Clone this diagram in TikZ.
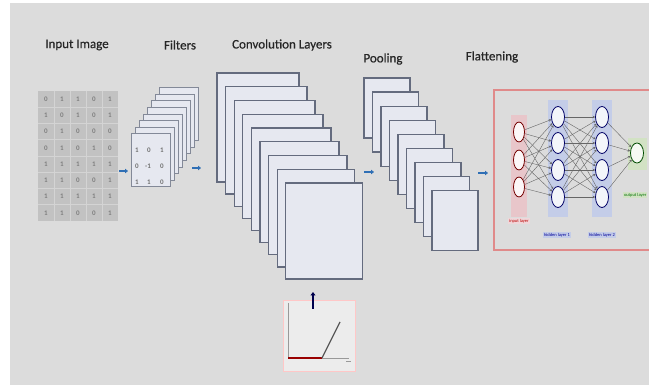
\documentclass[tikz,border=0pt]{standalone}
\usepackage{fontspec}
\setmainfont{Carlito}
\usetikzlibrary{arrows.meta,shapes.geometric}
\definecolor{bg}{HTML}{DCDCDC}
\definecolor{cardfill}{HTML}{E6E8F0}
\definecolor{carddraw}{HTML}{646B7E}
\definecolor{arrowblue}{HTML}{2F6FB5}
\definecolor{titlecol}{HTML}{262626}
\definecolor{matfill}{HTML}{C2C2C2}
\definecolor{matline}{HTML}{D4D4D4}
\definecolor{boxred}{HTML}{E08A8A}
\definecolor{inred}{HTML}{E8C6CA}
\definecolor{hidblue}{HTML}{C4CDE8}
\definecolor{outgreen}{HTML}{D2E2C4}
\tikzset{
  titletext/.style={font=\fontsize{13}{14}\selectfont\addfontfeature{FakeBold=0.6}, text=titlecol, inner sep=0pt},
  cardbox/.style={fill=cardfill, draw=carddraw, line width=1.3pt},
  filtercard/.style={fill=cardfill, draw=carddraw!80, line width=1pt},
  stagearrow/.style={draw=arrowblue, line width=2.6pt, -{Triangle[length=3pt,width=4.5pt]}},
  matdigit/.style={font=\fontsize{7}{7}\selectfont\bfseries, text=black!50, inner sep=0pt},
  fdigit/.style={font=\fontsize{7}{7}\selectfont\bfseries, text=black!55, inner sep=0pt},
  inneuron/.style={ellipse, minimum width=11pt, minimum height=20pt, inner sep=0pt, fill=white!85!inred, draw=red!45!black, line width=0.8pt},
  hidneuron/.style={ellipse, minimum width=13pt, minimum height=21pt, inner sep=0pt, fill=white!80!hidblue, draw=blue!40!black, line width=0.8pt},
  outneuron/.style={ellipse, minimum width=13pt, minimum height=20pt, inner sep=0pt, fill=white!80!outgreen, draw=green!30!black, line width=0.8pt},
  nnedge/.style={draw=black!60, line width=0.4pt, -{Stealth[length=2.5pt,width=2.5pt]}},
  tinylabel/.style={font=\fontsize{4.5}{5}\selectfont, inner sep=0.8pt},
}
\begin{document}
\begin{tikzpicture}[x=1pt,y=-1pt]
\useasboundingbox (0,0) rectangle (649,385);
\fill[white] (0,0) rectangle (649,385);
\fill[bg] (10,3) rectangle (649,385);
\begin{scope}
\clip (10,3) rectangle (649,385);

% Titles
\node[titletext] (tInput) at (77,45) {Input Image};
\node[titletext] (tFilters) at (180,45) {Filters};
\node[titletext] (tConv) at (282,45) {Convolution Layers};
\node[titletext] (tPool) at (383,59) {Pooling};
\node[titletext] (tFlat) at (492,57) {Flattening};

% Input matrix
\fill[matfill] (38,91) rectangle (118,221);
\foreach \k in {1,...,4} \draw[matline, line width=0.6pt] (38+16*\k,91) -- (38+16*\k,221);
\foreach \k in {1,...,7} \draw[matline, line width=0.6pt] (38,91+16.25*\k) -- (118,91+16.25*\k);
\foreach \row [count=\r from 0] in {{0,1,1,0,1},{1,0,1,0,1},{0,1,0,0,0},{0,1,0,1,0},{1,1,1,1,1},{1,1,0,0,1},{1,1,1,1,1},{1,1,0,0,1}}{
  \foreach \v [count=\c from 0] in \row {
    \node[matdigit] (m\r\c) at (46+16*\c, 99.1+16.25*\r) {\v};
  }
}

% Filters stack
\foreach \i in {7,6,...,0}{
  \draw[filtercard] (131+4*\i,134-6.6*\i) rectangle ++(39,53);
}
\node[fdigit] (f00) at (137,150) {1};
\node[fdigit] (f01) at (149,150) {0};
\node[fdigit] (f02) at (162,150) {1};
\node[fdigit] (f10) at (137,166) {0};
\node[fdigit] (f11) at (148,166) {-1};
\node[fdigit] (f12) at (162,166) {0};
\node[fdigit] (f20) at (137,182) {1};
\node[fdigit] (f21) at (149,182) {1};
\node[fdigit] (f22) at (162,182) {0};

% Convolution layers
\foreach \i in {0,...,8}{
  \draw[cardbox] (217+8.6*\i,73+13.75*\i) rectangle ++(82-0.625*\i,109-1.625*\i);
}

% Pooling layers
\foreach \i in {0,...,8}{
  \draw[cardbox] (364+8.5*\i,78+14.1*\i) rectangle ++(46,60);
}

% Stage arrows
\coordinate (a1s) at (119,171); \coordinate (a1e) at (128,171);
\coordinate (a2s) at (192,168); \coordinate (a2e) at (201,168);
\coordinate (a3s) at (364,172); \coordinate (a3e) at (374,172);
\coordinate (a4s) at (478,173); \coordinate (a4e) at (488,173);
\draw[stagearrow] (a1s) -- (a1e);
\draw[stagearrow] (a2s) -- (a2e);
\draw[stagearrow] (a3s) -- (a3e);
\draw[stagearrow] (a4s) -- (a4e);

% ReLU chart
\draw[fill=bg!55!white, draw=red!22!white, line width=0.6pt] (283,300) rectangle (355,371);
\coordinate (ax0) at (288,358);
\coordinate (axy) at (288,303);
\coordinate (axx) at (349,358);
\coordinate (rk) at (322,358);
\coordinate (rt) at (340,322);
\draw[black!40, line width=0.7pt] (axy) -- (ax0) -- (axx);
\draw[black!40, line width=0.6pt] (346,361) -- (351,361);
\draw[red!60!black, line width=1.3pt] (ax0) -- (rk);
\draw[black!65, line width=1.2pt] (rk) -- (rt);
\coordinate (upS) at (313,309);
\coordinate (upE) at (313,292);
\draw[draw=blue!30!black, line width=2.6pt, -{Triangle[length=3.5pt,width=5pt]}] (upS) -- (upE);

% Fully connected network box
\draw[boxred, line width=1.4pt] (494,90) rectangle (660,250);
\fill[inred] (511,115) rectangle (527,217);
\fill[hidblue] (548,100) rectangle (568,217);
\fill[hidblue] (592,100) rectangle (612,217);
\fill[outgreen] (628,138) rectangle (647,170);

\node[inneuron] (i1) at (519,132) {};
\node[inneuron] (i2) at (519,160) {};
\node[inneuron] (i3) at (519,187) {};
\foreach \y [count=\k] in {117,143,170,197}{
  \node[hidneuron] (h\k) at (558,\y) {};
  \node[hidneuron] (g\k) at (602,\y) {};
}
\node[outneuron] (o1) at (637,153) {};

\foreach \a in {1,2,3}{\foreach \b in {1,...,4}{\draw[nnedge] (i\a) -- (h\b);}}
\foreach \a in {1,...,4}{\foreach \b in {1,...,4}{\draw[nnedge] (h\a) -- (g\b);}}
\foreach \a in {1,...,4}{\draw[nnedge] (g\a) -- (o1);}

\node[tinylabel, text=red!75!black, fill=inred!70!white] (lin) at (519,221) {input layer};
\node[tinylabel, text=blue!60!black, fill=hidblue] (lh1) at (557,235) {hidden layer 1};
\node[tinylabel, text=blue!60!black, fill=hidblue] (lh2) at (602,235) {hidden layer 2};
\node[tinylabel, text=green!45!black, fill=outgreen, anchor=west] (lout) at (623,195) {output layer};
\end{scope}
\end{tikzpicture}
\end{document}
